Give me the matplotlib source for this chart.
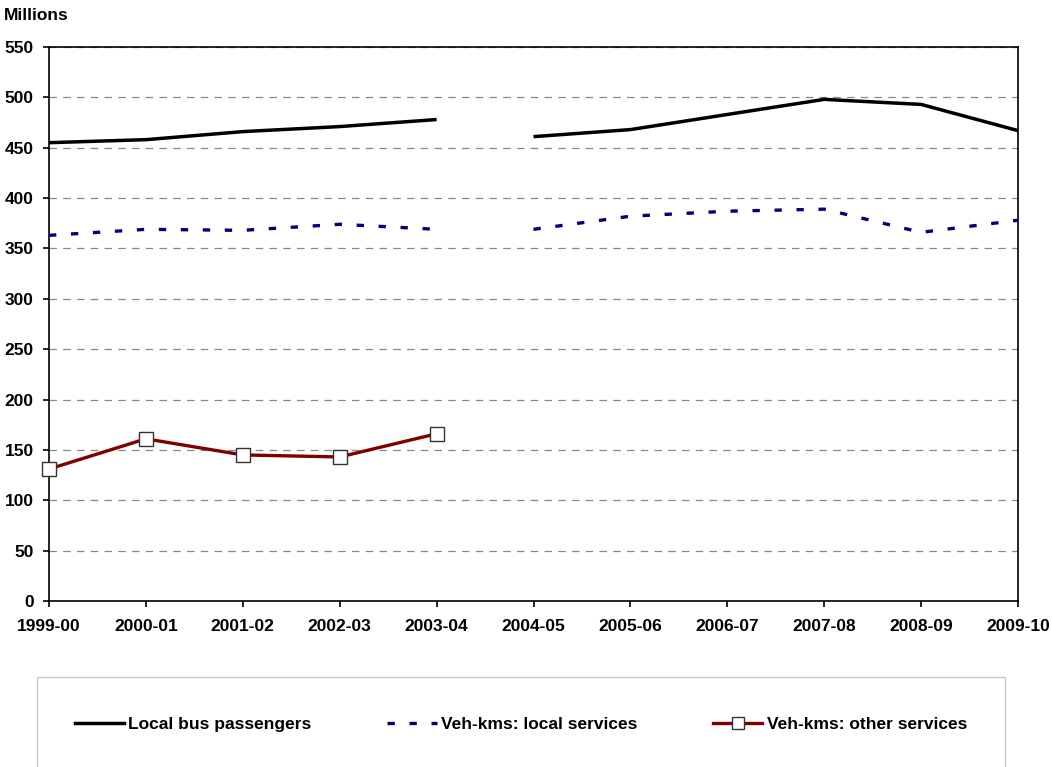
import matplotlib
matplotlib.use("Agg")
import matplotlib.pyplot as plt
from matplotlib.lines import Line2D
from matplotlib.patches import Rectangle
import numpy as np

plt.rcParams['font.family'] = ['Liberation Sans', 'DejaVu Sans']
plt.rcParams['font.weight'] = 'bold'

years = ["1999-00", "2000-01", "2001-02", "2002-03", "2003-04", "2004-05",
         "2005-06", "2006-07", "2007-08", "2008-09", "2009-10"]
passengers = [455, 458, 466, 471, 478, 461, 468, 483, 498, 493, 467]
vehkm_local = [363, 369, 368, 374, 369, 369, 382, 387, 389, 366, 378]
vehkm_other = [131, 161, 145, 143, 166, np.nan, np.nan, np.nan, np.nan, np.nan, np.nan]
break_after = 4  # series break between 2003-04 and 2004-05

FS = 12.5

fig = plt.figure(figsize=(10.52, 7.67), dpi=100)
ax = fig.add_axes([49/1052, 1 - 601/767, (1018-49)/1052, (601-47)/767])

x = np.arange(len(years))
segments = [slice(0, break_after + 1), slice(break_after + 1, len(years))]

for s in segments:
    ax.plot(x[s], passengers[s], color='black', lw=2.5, solid_capstyle='butt', zorder=3)
    ax.plot(x[s], vehkm_local[s], color='#000080', lw=2.4, dashes=(2.2, 4.4), zorder=3)
ax.plot(x, vehkm_other, color='#800000', lw=2.4, marker='s', ms=10,
        mfc='white', mec='#333333', mew=1.0, zorder=4, clip_on=False)

ax.set_xlim(0, len(years) - 1)
ax.set_ylim(0, 550)
ax.set_yticks(np.arange(0, 551, 50))
ax.set_xticks(x)
ax.set_xticklabels(years)
ax.grid(axis='y', color='#888888', ls=(0, (6, 5)), lw=0.9)
ax.set_axisbelow(True)
for sp in ax.spines.values():
    sp.set_color('black')
    sp.set_linewidth(1.2)
ax.tick_params(axis='x', length=4, width=1.2, labelsize=FS, pad=9)
ax.tick_params(axis='y', length=4, width=1.2, labelsize=FS, pad=7)
for lbl in ax.get_xticklabels() + ax.get_yticklabels():
    lbl.set_fontweight('bold')

fig.text(4/1052, 1 - 15/767, "Millions", fontsize=FS, fontweight='bold', va='center', ha='left')

# legend box
fig.patches.append(Rectangle((37/1052, -0.05), (1005-37)/1052, 1 - 677/767 + 0.05,
                             transform=fig.transFigure, facecolor='white',
                             edgecolor='#c8c8c8', lw=1.0, zorder=0))
handles = [
    Line2D([], [], color='black', lw=2.5),
    Line2D([], [], color='#000080', lw=2.4, dashes=(2.2, 4.4)),
    Line2D([], [], color='#800000', lw=2.4, marker='s', ms=9, mfc='white', mec='#333333', mew=1.0),
]
labels = ["Local bus passengers", "Veh-kms: local services", "Veh-kms: other services"]
fig.legend(handles, labels, loc='center left', bbox_to_anchor=(59/1052, 1 - 724/767),
           ncol=3, frameon=False, handlelength=2.85, handletextpad=0.25,
           columnspacing=4.35, prop={'weight': 'bold', 'size': FS})

fig.savefig("out.png", dpi=100)
